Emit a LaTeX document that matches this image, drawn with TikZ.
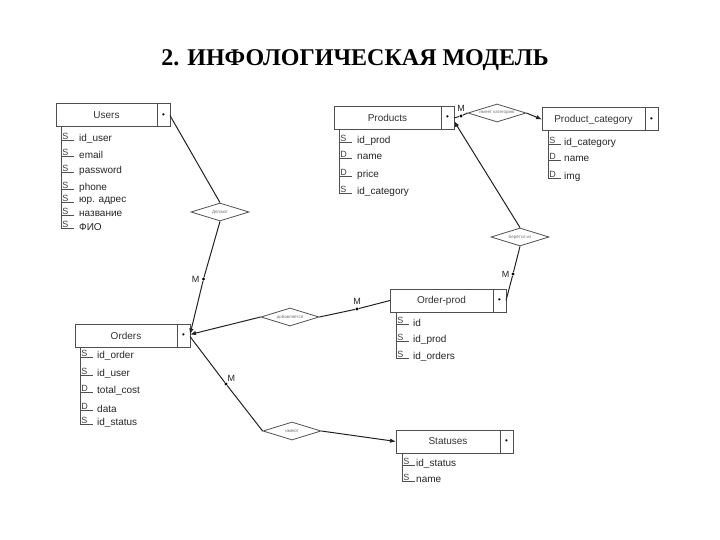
\documentclass[tikz,border=0pt]{standalone}
\usepackage{fontspec}
\setmainfont{Liberation Serif}
\setsansfont{Liberation Sans}
\usetikzlibrary{arrows.meta, positioning, shapes.geometric}
\definecolor{boxgray}{RGB}{80, 80, 80}
\definecolor{linegray}{RGB}{35, 35, 35}
\tikzset{
  entity/.style={
    draw=boxgray, line width=1pt, rectangle, minimum height=23pt, inner sep=0pt, outer sep=0pt,
    font=\sffamily\fontsize{10}{11}\selectfont, text=black!80
  },
  keycell/.style={
    draw=boxgray, line width=1pt, rectangle, minimum height=23pt, minimum width=13pt,
    inner sep=0pt, outer sep=0pt, font=\sffamily\fontsize{8}{8}\selectfont
  },
  relation/.style={
    diamond, draw=boxgray, line width=0.8pt, aspect=3.2, minimum width=58pt, minimum height=18pt,
    inner sep=0pt, font=\sffamily\fontsize{4.5}{5}\selectfont, text=black!55
  },
  attr/.style={anchor=west, inner sep=0pt, font=\sffamily\fontsize{10}{11}\selectfont, text=black!85},
  keytag/.style={anchor=south west, inner sep=0.6pt, font=\sffamily\fontsize{9}{9}\selectfont, text=black!75},
  keyline/.style={draw=boxgray, line width=0.9pt},
  link/.style={draw=linegray, line width=1pt},
  arrow/.style={link, -{Latex[length=6pt, width=4.5pt]}},
  mdot/.style={circle, fill=black, inner sep=0pt, minimum size=3.4pt},
  mlabel/.style={inner sep=0pt, font=\sffamily\fontsize{9}{9}\selectfont, text=black!85},
  title/.style={font=\fontsize{24}{26}\selectfont\bfseries}
}

\begin{document}
\begin{tikzpicture}[x=1pt, y=-1pt]
  \fill[white] (0,0) rectangle (720,540);
  \useasboundingbox (0,0) rectangle (720,540);

  \node[title] (title) at (355,60) {2. ИНФОЛОГИЧЕСКАЯ МОДЕЛЬ};

  % entities
  \node[entity, minimum width=101pt] (users) at (106.5,115.5) {Users};
  \node[keycell, right=0pt of users] (users-k) {\textbullet};
  \node[entity, minimum width=107pt] (prod) at (387.5,118) {Products};
  \node[keycell, right=0pt of prod] (prod-k) {\textbullet};
  \node[entity, minimum width=103pt] (cat) at (593.5,119.5) {Product\_category};
  \node[keycell, right=0pt of cat] (cat-k) {\textbullet};
  \node[entity, minimum width=102pt] (orders) at (126,335.5) {Orders};
  \node[keycell, right=0pt of orders] (orders-k) {\textbullet};
  \node[entity, minimum width=103pt] (op) at (441.5,300.5) {Order-prod};
  \node[keycell, right=0pt of op] (op-k) {\textbullet};
  \node[entity, minimum width=104pt] (stat) at (448,441.5) {Statuses};
  \node[keycell, right=0pt of stat] (stat-k) {\textbullet};

  % attributes
  \draw[keyline] (61,127) -- (61,228.5);
  \foreach \k/\t/\y in {S/id\_user/139, S/email/155, S/password/171, S/phone/188,
                        S/юр. адрес/201, S/название/214, S/ФИО/227} {
    \draw[keyline] (61,\y+1.5) -- ++(13,0);
    \node[keytag] (users-t\y) at (61.5,\y+1) {\k};
    \node[attr] (users-a\y) at (79,\y) {\t};
  }
  \draw[keyline] (339,129) -- (339,193.5);
  \foreach \k/\t/\y in {S/id\_prod/141, D/name/157, D/price/175, S/id\_category/192} {
    \draw[keyline] (339,\y+1.5) -- ++(13,0);
    \node[keytag] (prod-t\y) at (339.5,\y+1) {\k};
    \node[attr] (prod-a\y) at (357,\y) {\t};
  }
  \draw[keyline] (548,131) -- (548,178.5);
  \foreach \k/\t/\y in {S/id\_category/143, D/name/159, D/img/177} {
    \draw[keyline] (548,\y+1.5) -- ++(13,0);
    \node[keytag] (cat-t\y) at (548.5,\y+1) {\k};
    \node[attr] (cat-a\y) at (564,\y) {\t};
  }
  \draw[keyline] (80,347) -- (80,424.5);
  \foreach \k/\t/\y in {S/id\_order/356, S/id\_user/374, D/total\_cost/391, D/data/409, S/id\_status/423} {
    \draw[keyline] (80,\y+1.5) -- ++(13,0);
    \node[keytag] (orders-t\y) at (80.5,\y+1) {\k};
    \node[attr] (orders-a\y) at (97,\y) {\t};
  }
  \draw[keyline] (396,312) -- (396,358.5);
  \foreach \k/\t/\y in {S/id/323, S/id\_prod/340, S/id\_orders/357} {
    \draw[keyline] (396,\y+1.5) -- ++(13,0);
    \node[keytag] (op-t\y) at (396.5,\y+1) {\k};
    \node[attr] (op-a\y) at (413,\y) {\t};
  }
  \draw[keyline] (402,453) -- (402,481.5);
  \foreach \k/\t/\y in {S/id\_status/464, S/name/480} {
    \draw[keyline] (402,\y+1.5) -- ++(13,0);
    \node[keytag] (stat-t\y) at (402.5,\y+1) {\k};
    \node[attr] (stat-a\y) at (416,\y) {\t};
  }

  % relations
  \node[relation] (r-make) at (220,212) {Делают};
  \node[relation] (r-cat) at (497,113) {имеет категорию};
  \node[relation] (r-take) at (520,237) {берётся из};
  \node[relation] (r-add) at (290,317) {добавляется};
  \node[relation] (r-have) at (292,431) {имеют};

  % many-side markers
  \node[mdot] (m-make) at (203.5,279) {};
  \node[mlabel, left=2pt of m-make] (ml-make) {M};
  \node[mdot] (m-cat) at (461,116) {};
  \node[mlabel, above=2pt of m-cat] (ml-cat) {M};
  \node[mdot] (m-take) at (513,274) {};
  \node[mlabel, left=1.5pt of m-take] (ml-take) {M};
  \node[mdot] (m-add) at (357,309) {};
  \node[mlabel, above=2pt of m-add] (ml-add) {M};
  \node[mdot] (m-have) at (226,384) {};
  \node[mlabel, above right=1pt and 0pt of m-have] (ml-have) {M};

  % connectors
  \draw[link] (users-k.east) -- (r-make.north);
  \draw[link] (r-make.south) -- (m-make);
  \draw[arrow] (m-make) -- ([yshift=1pt]orders-k.east);
  \draw[link] (prod-k.east) -- (m-cat) -- (r-cat.west);
  \draw[arrow] (r-cat.east) -- (cat.west);
  \draw[link] (op-k.east) -- (m-take) -- (r-take.south);
  \draw[arrow] (r-take.north) -- ([yshift=-3pt]prod-k.east);
  \draw[link] (op.west) -- (m-add) -- (r-add.east);
  \draw[arrow] (r-add.west) -- ([yshift=1pt]orders-k.east);
  \draw[link] ([yshift=-1pt]orders-k.east) -- (m-have) -- (r-have.west);
  \draw[arrow] (r-have.east) -- (stat.west);
\end{tikzpicture}
\end{document}
